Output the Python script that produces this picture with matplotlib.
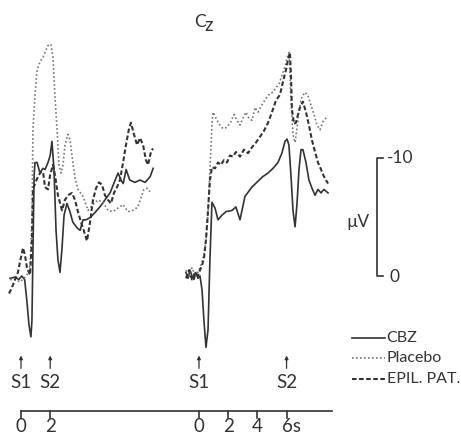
import matplotlib
matplotlib.use("Agg")
from matplotlib import pyplot as plt

plt.rcParams['font.family'] = ['Lato', 'DejaVu Sans']

# ---- left panel: S1 at 0 s, S2 at 2 s ----
left_cbz_t = [-0.75, -0.4, -0.15, 0.05, 0.25, 0.4, 0.55, 0.68, 0.75, 0.82, 0.9, 0.96, 1.1, 1.3, 1.5, 1.65,
              1.85, 2.0, 2.12, 2.26, 2.4, 2.53, 2.67, 2.8, 2.95, 3.15, 3.35, 3.55, 3.85, 4.05, 4.25, 4.45,
              4.75, 5.05, 5.4, 5.75, 6.1, 6.45, 6.65, 6.85, 7.0, 7.2, 7.45, 7.8, 8.15, 8.5, 8.85, 9.05]
left_cbz_v = [-0.2, -0.1, -0.3, 0.0, -0.3, -2.1, -4.2, -5.2, -3.8, 2.2, 8.6, 9.7, 9.7, 8.8, 9.2, 9.1,
              9.7, 10.3, 11.5, 9.1, 3.9, 1.4, 0.3, 2.2, 5.2, 6.2, 5.5, 4.6, 4.1, 3.9, 4.8, 4.8,
              5.0, 5.4, 5.9, 6.5, 7.1, 8.2, 8.8, 8.2, 7.9, 9.1, 8.2, 8.0, 8.2, 8.0, 8.5, 9.2]

left_plac_t = [-0.75, -0.41, -0.07, 0.21, 0.41, 0.62, 0.75, 0.82, 0.96, 1.10, 1.30, 1.51, 1.71, 1.85, 2.05,
               2.19, 2.33, 2.47, 2.60, 2.74, 2.88, 3.01, 3.22, 3.36, 3.49, 3.70, 3.90, 4.25, 4.59, 4.93,
               5.27, 5.62, 5.96, 6.30, 6.64, 6.99, 7.33, 7.67, 8.01, 8.22, 8.42, 8.63, 8.84]
left_plac_v = [-0.3, -0.3, -0.5, -0.2, 0.1, 0.9, 4.8, 12.5, 15.5, 17.6, 18.3, 18.7, 19.3, 19.7, 19.8,
               18.7, 15.3, 12.5, 9.5, 8.8, 9.5, 11.2, 12.1, 11.6, 10.3, 8.4, 7.4, 6.8, 5.6, 6.1,
               6.5, 6.3, 5.6, 5.5, 5.8, 6.1, 5.5, 5.6, 5.9, 6.7, 7.4, 7.5, 7.2]

left_epil_t = [-0.82, -0.62, -0.41, -0.21, -0.07, 0.14, 0.27, 0.41, 0.62, 0.75, 0.82, 0.96, 1.16, 1.37, 1.51,
               1.64, 1.85, 1.99, 2.19, 2.33, 2.53, 2.81, 3.01, 3.22, 3.49, 3.70, 3.90, 4.11, 4.32, 4.52,
               4.73, 4.93, 5.14, 5.34, 5.55, 5.75, 5.96, 6.16, 6.37, 6.58, 6.78, 6.99, 7.19, 7.40, 7.53,
               7.74, 7.95, 8.15, 8.36, 8.56, 8.70, 8.90, 9.04]
left_epil_v = [-1.5, -1.0, -0.3, 0.3, 1.2, 2.4, 1.8, 0.7, 0.1, 3.1, 7.4, 7.9, 8.5, 8.9, 8.9,
               7.6, 7.4, 8.6, 9.5, 8.6, 6.9, 5.6, 6.5, 6.9, 7.1, 6.5, 5.5, 4.6, 3.8, 3.0,
               4.6, 6.5, 7.5, 8.0, 7.8, 6.9, 6.5, 6.2, 7.1, 7.6, 8.2, 9.7, 11.2, 12.6, 13.1,
               12.1, 11.2, 11.8, 11.2, 9.9, 9.5, 10.6, 10.9]

# ---- right panel: S1 at 0 s, S2 at 6 s ----
right_cbz_t = [-0.89, -0.75, -0.62, -0.48, -0.34, -0.21, -0.07, 0.07, 0.21, 0.34, 0.48, 0.62, 0.75, 0.89,
               1.10, 1.30, 1.58, 1.85, 2.26, 2.53, 2.81, 3.15, 3.63, 4.04, 4.38, 4.73, 5.07, 5.41, 5.68,
               5.89, 6.03, 6.16, 6.30, 6.44, 6.58, 6.71, 6.85, 6.99, 7.12, 7.33, 7.53, 7.74, 7.95, 8.15,
               8.36, 8.56, 8.84]
right_cbz_v = [0.3, -0.2, 0.5, 0.0, -0.3, 0.3, -0.2, 0.0, -1.2, -3.8, -6.1, -4.6, 1.4, 6.3,
               5.8, 4.8, 5.2, 5.5, 5.6, 5.9, 4.8, 6.8, 7.6, 8.1, 8.5, 8.8, 9.2, 9.7, 10.5,
               11.5, 11.7, 11.2, 8.6, 5.6, 4.2, 6.1, 9.1, 10.8, 10.8, 9.7, 8.2, 7.5, 6.9, 7.4,
               7.1, 7.4, 7.1]

right_plac_t = [-0.89, -0.68, -0.48, -0.27, -0.07, 0.07, 0.21, 0.34, 0.48, 0.62, 0.75, 0.89, 0.96, 1.16,
                1.37, 1.64, 1.92, 2.19, 2.40, 2.60, 2.81, 3.01, 3.22, 3.42, 3.63, 3.84, 4.04, 4.25, 4.45,
                4.66, 4.86, 5.07, 5.27, 5.48, 5.68, 5.89, 6.03, 6.16, 6.23, 6.30, 6.44, 6.58, 6.71, 6.85,
                7.05, 7.26, 7.47, 7.67, 7.88, 8.08, 8.29, 8.49, 8.77]
right_plac_v = [0.5, -0.1, 0.7, 0.1, 0.3, 0.7, 1.2, 1.8, 3.1, 5.2, 9.1, 12.9, 14.0, 13.5,
                13.0, 12.6, 12.7, 13.2, 13.8, 13.3, 12.9, 13.5, 14.0, 13.5, 13.3, 14.4, 14.0, 14.5, 14.9,
                15.3, 15.6, 15.7, 16.1, 16.4, 17.1, 17.9, 18.6, 19.1, 17.6, 15.0, 12.1, 11.4, 12.6, 14.2,
                15.3, 15.7, 15.4, 14.6, 13.8, 12.9, 12.5, 13.2, 13.6]

right_epil_t = [-0.89, -0.68, -0.48, -0.27, -0.07, 0.07, 0.21, 0.34, 0.48, 0.62, 0.75, 0.89, 1.10, 1.30,
                1.51, 1.71, 1.92, 2.12, 2.33, 2.53, 2.81, 3.08, 3.36, 3.63, 3.90, 4.18, 4.45, 4.73, 5.00,
                5.27, 5.55, 5.75, 5.96, 6.10, 6.23, 6.30, 6.37, 6.51, 6.64, 6.78, 6.92, 7.12, 7.33, 7.53,
                7.74, 7.95, 8.15, 8.36, 8.56, 8.84]
right_epil_v = [-0.2, 0.5, -0.3, 0.3, 0.0, 0.5, 0.9, 1.5, 3.1, 5.6, 8.2, 9.3, 9.2, 9.7,
                9.5, 9.9, 9.7, 10.3, 10.2, 10.6, 10.2, 10.8, 10.5, 11.0, 11.4, 11.9, 12.4, 13.1, 14.0,
                15.0, 15.5, 16.6, 17.6, 18.5, 19.1, 17.2, 14.2, 13.0, 13.1, 13.8, 14.4, 14.9, 14.0, 12.9,
                11.6, 10.6, 9.7, 9.1, 8.5, 7.9]

labels = ['CBZ', 'Placebo', 'EPIL. PAT.']
left_ticks = [0, 2]
right_ticks = [0, 2, 4, 6]
right_tick_labels = ['0', '2', '4', '6s']

R = 12.19  # where the right panel's time zero sits on the shared axis
ink = '#333333'
styles = [dict(color=ink, lw=1.2, ls='-'),
          dict(color='#777777', lw=1.2, ls=(0, (1, 1.4))),
          dict(color=ink, lw=1.5, ls=(0, (2.2, 1.2)))]

fig = plt.figure(figsize=(4.61, 4.47), dpi=100)
ax = fig.add_axes([0, 0, 1, 1])
ax.set_xlim(-1.438, 30.137)
ax.set_ylim(-14.62, 23.59)
ax.axis('off')

left = [(left_cbz_t, left_cbz_v), (left_plac_t, left_plac_v), (left_epil_t, left_epil_v)]
right = [(right_cbz_t, right_cbz_v), (right_plac_t, right_plac_v), (right_epil_t, right_epil_v)]
for (t, v), st in zip(left, styles):
    ax.plot(t, v, **st)
for (t, v), st in zip(right, styles):
    ax.plot([x + R for x in t], v, **st)

# title
ax.text(12.26, 21.75, 'C', fontsize=12.5, color=ink, ha='center', va='center')
ax.text(12.88, 21.45, 'z', fontsize=13.5, color=ink, ha='center', va='center')

# stimulus markers
for x, name in [(0, 'S1'), (2, 'S2'), (R, 'S1'), (R + 6, 'S2')]:
    ax.annotate('', xy=(x, -6.8), xytext=(x, -7.9),
                arrowprops=dict(arrowstyle='-|>', lw=0.9, color=ink, mutation_scale=5,
                                shrinkA=0, shrinkB=0))
    ax.text(x, -9.1, name, fontsize=13.5, color=ink, ha='center', va='center')

# time axis
ax.plot([0, 21.3], [-11.55, -11.55], color=ink, lw=1.2)
for x in left_ticks:
    ax.plot([x, x], [-11.55, -12.1], color=ink, lw=1.2)
    ax.text(x, -12.9, str(x), fontsize=13.5, color=ink, ha='center', va='center')
for x, lab in zip(right_ticks, right_tick_labels):
    ax.plot([x + R, x + R], [-11.55, -12.1], color=ink, lw=1.2)
    if lab.endswith('s'):
        ax.text(x + R - 0.28, -12.9, lab, fontsize=13.5, color=ink, ha='left', va='center')
    else:
        ax.text(x + R, -12.9, lab, fontsize=13.5, color=ink, ha='center', va='center')

# voltage scale bar
ax.plot([24.8, 24.38, 24.38, 24.8], [10.08, 10.08, 0, 0], color=ink, lw=1.2)
ax.text(25.05, 10.1, '-10', fontsize=12.5, color=ink, ha='left', va='center')
ax.text(25.27, -0.1, '0', fontsize=12.5, color=ink, ha='left', va='center')
ax.text(23.08, 4.6, 'µV', fontsize=12.5, color=ink, ha='center', va='center')

# legend
for st, lab, y in zip(styles, labels, [-5.3, -7.0, -8.8]):
    ax.plot([22.7, 24.9], [y, y], **st)
    ax.text(25.05, y, lab, fontsize=11.5, color=ink, ha='left', va='center')

fig.savefig('out.png', dpi=100, facecolor='white')
